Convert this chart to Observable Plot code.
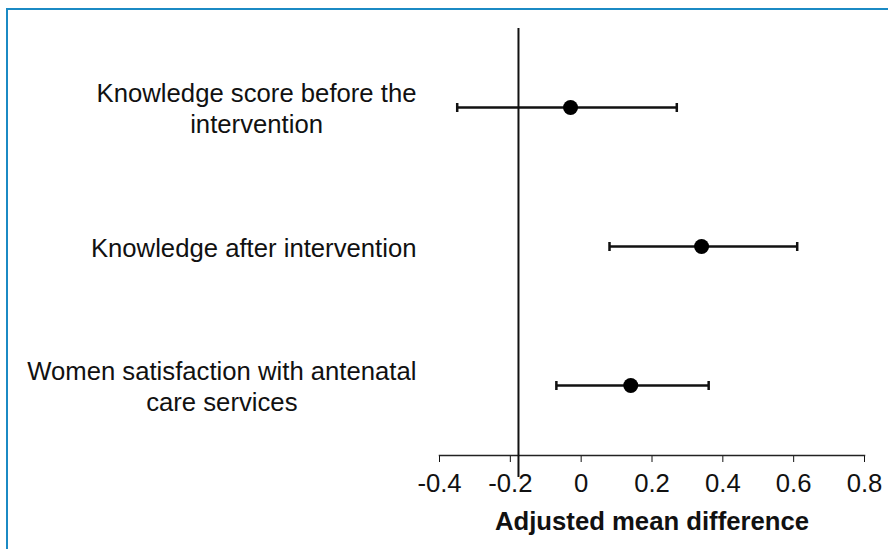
<!DOCTYPE html>
<html><head><meta charset="utf-8">
<script src="https://cdn.jsdelivr.net/npm/d3@7"></script>
<script src="https://cdn.jsdelivr.net/npm/@observablehq/plot@0.6"></script>
<style>
body{margin:0;background:#fff;}
#wrap{position:relative;width:888px;height:549px;overflow:hidden;background:#fff;}
#frame{position:absolute;left:6px;top:8px;width:900px;height:560px;border-top:2px solid #1b8ac4;border-left:2px solid #1b8ac4;pointer-events:none;}
g[aria-label="x-axis label"] text{font-weight:bold;}
</style></head>
<body><div id="wrap"><div id="chart"></div><div id="frame"></div></div>
<script>
const labels = ["Knowledge score before the\nintervention", "Knowledge after intervention", "Women satisfaction with antenatal\ncare services"];
const estimates = [-0.03, 0.34, 0.14];
const lower = [-0.35, 0.08, -0.07];
const upper = [0.27, 0.61, 0.36];
const refLine = -0.177;
const xTicks = [-0.4, -0.2, 0, 0.2, 0.4, 0.6, 0.8];
const xTitle = "Adjusted mean difference";

const rows = labels.map((label, i) => ({label, est: estimates[i], lo: lower[i], hi: upper[i]}));

// vertical bar symbol for the whisker caps
const capSymbol = {draw(ctx, size) { const h = Math.sqrt(size) / 2; ctx.moveTo(0, -h); ctx.lineTo(0, h); }};

const plot = Plot.plot({
  width: 888, height: 549,
  marginLeft: 439, marginRight: 24, marginTop: 28, marginBottom: 94,
  style: {fontFamily: "'Liberation Sans', Arial, sans-serif", fontSize: "25.7px", color: "#111", background: "transparent"},
  x: {domain: [-0.4, 0.8], ticks: xTicks, tickFormat: d => String(d), tickSize: 7, tickPadding: 11,
      label: xTitle, labelAnchor: "center", labelArrow: "none", labelOffset: 74},
  y: {type: "point", domain: labels, range: [107, 385], padding: 0, axis: null},
  marks: [
    Plot.frame({anchor: "bottom", strokeWidth: 1.5, stroke: "#222"}),
    Plot.ruleX([refLine], {strokeWidth: 2, insetBottom: -22, stroke: "#111"}),
    Plot.ruleY(rows, {y: "label", x1: "lo", x2: "hi", strokeWidth: 2.5, stroke: "#111"}),
    Plot.dot(rows, {y: "label", x: "lo", symbol: capSymbol, r: 5.1, strokeWidth: 2.5, stroke: "#111", fill: "none"}),
    Plot.dot(rows, {y: "label", x: "hi", symbol: capSymbol, r: 5.1, strokeWidth: 2.5, stroke: "#111", fill: "none"}),
    Plot.dot(rows, {y: "label", x: "est", r: 7.5, fill: "#000", stroke: "none"}),
    Plot.text(rows, {y: "label", text: "label", frameAnchor: "left", textAnchor: "end", dx: -23, lineHeight: 1.22, fill: "#111"})
  ]
});
document.getElementById("chart").appendChild(plot);

// center lines of each multi-line label within its right-aligned block
plot.querySelectorAll('g[aria-label="text"] text').forEach(t => {
  const spans = t.querySelectorAll("tspan");
  if (spans.length) {
    let W = 0;
    spans.forEach(s => { W = Math.max(W, s.getComputedTextLength()); });
    t.setAttribute("text-anchor", "middle");
    spans.forEach(s => s.setAttribute("x", -W / 2));
  } else {
    const W = t.getComputedTextLength();
    t.setAttribute("text-anchor", "middle");
    t.setAttribute("x", -W / 2);
  }
});
</script>
</body></html>
